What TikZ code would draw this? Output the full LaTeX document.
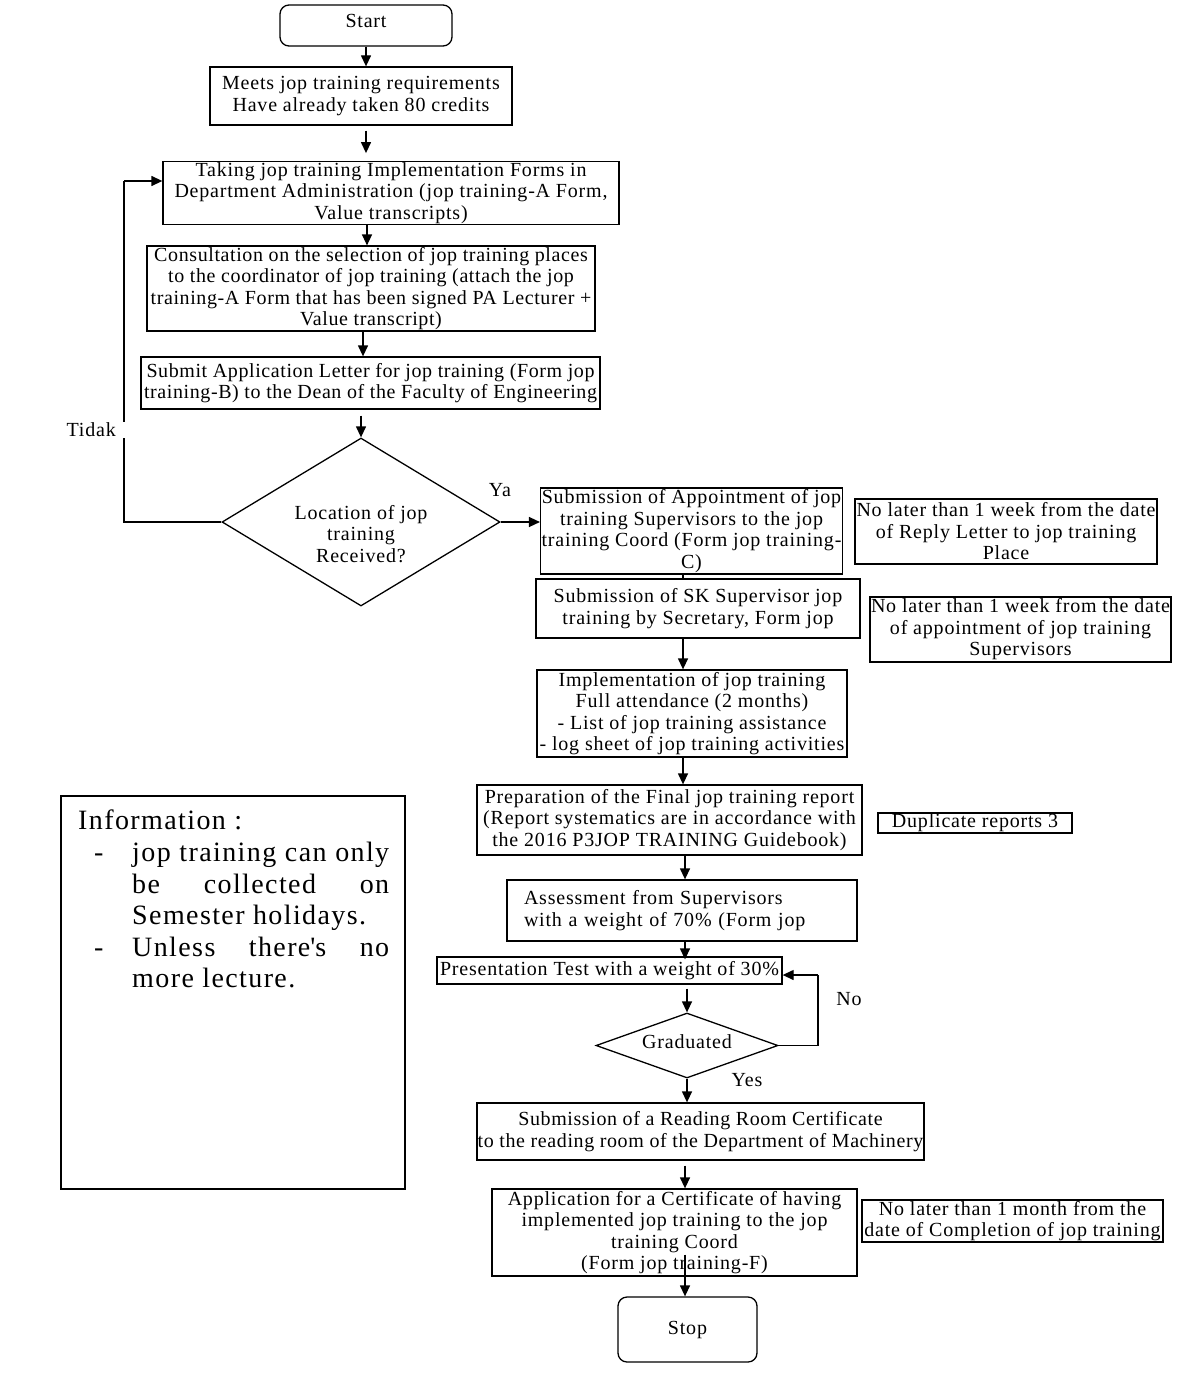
\documentclass[tikz,border=0pt]{standalone}
\usepackage{fontspec}
\setmainfont{Liberation Serif}[LetterSpace=4]
\usetikzlibrary{arrows.meta,shapes.geometric}
\begin{document}
\begin{tikzpicture}[x=1pt,y=-1pt,
  every node/.style={font=\fontsize{20}{21.5}\selectfont},
  tight/.style={font=\addfontfeatures{LetterSpace=3}\fontsize{20}{21.5}\selectfont},
  box/.style={draw,line width=1.3pt,rectangle,inner sep=1pt,align=center},
  term/.style={box,rounded corners=9pt},
  dia/.style={draw,line width=1.3pt,diamond,inner sep=0pt},
  lbl/.style={inner sep=1pt},
  arr/.style={line width=1.3pt,-{Triangle[length=11pt,width=10pt]}},
  ln/.style={line width=1.3pt}]
\useasboundingbox (0,0) rectangle (1200,1389);
% main column
\node[term,minimum width=172,minimum height=41] (start) at (366,25.5) {\raisebox{9pt}{Start}};
\node[box,minimum width=302,minimum height=58] (b1) at (361,96) {Meets jop training requirements\\Have already taken 80 credits};
\node[box,minimum width=456,minimum height=59] (b2) at (391,193) {\raisebox{-3pt}{\shortstack{Taking jop training Implementation Forms in\\Department Administration (jop training-A Form,\\Value transcripts)}}};
\node[box,tight,minimum width=448,minimum height=83,inner xsep=0pt] (b3) at (371,288.5) {Consultation on the selection of jop training places\\to the coordinator of jop training (attach the jop\\training-A Form that has been signed PA Lecturer +\\Value transcript)};
\node[box,tight,minimum width=459,minimum height=52,inner xsep=0pt] (b4) at (370.5,383) {Submit Application Letter for jop training (Form jop\\training-B) to the Dean of the Faculty of Engineering};
\node[dia,minimum width=278,minimum height=168] (d1) at (361,522) {};
\node[lbl,align=center] (d1t) at (361,534) {Location of jop\\training\\Received?};
\node[lbl] (ya) at (500,490) {Ya};
\node[box,minimum width=301,minimum height=86] (b5) at (691.5,531) {Submission of Appointment of jop\\training Supervisors to the jop\\training Coord (Form jop training-\\C)};
\node[box,minimum width=324,minimum height=59] (b6) at (698,608.5) {Submission of SK Supervisor jop\\training by Secretary, Form jop};
\node[box,minimum width=310,minimum height=87] (b7) at (692,713.5) {Implementation of jop training\\Full attendance (2 months)\\- List of jop training assistance\\- log sheet of jop training activities};
\node[box,minimum width=385,minimum height=70] (b8) at (669.5,820) {Preparation of the Final jop training report\\(Report systematics are in accordance with\\the 2016 P3JOP TRAINING Guidebook)};
\node[box,minimum width=350,minimum height=61,text width=316,inner xsep=17pt,align=left] (b9) at (682,910.5) {Assessment from Supervisors\\with a weight of 70\% (Form jop};
\node[box,minimum width=345,minimum height=27,inner sep=0pt] (b10) at (609.5,970.5) {Presentation Test with a weight of 30\%};
\node[dia,minimum width=182,minimum height=65] (d2) at (687,1045.5) {};
\node[lbl] (d2t) at (687,1042) {Graduated};
\node[lbl] (no) at (849,999) {No};
\node[lbl] (yes) at (747,1080) {Yes};
\node[box,tight,minimum width=447,minimum height=57,inner xsep=0pt] (b11) at (700.5,1131.5) {Submission of a Reading Room Certificate\\to the reading room of the Department of Machinery};
\node[box,minimum width=365,minimum height=87] (b12) at (674.5,1232.5) {Application for a Certificate of having\\implemented jop training to the jop\\training Coord\\(Form jop training-F)};
\node[term,minimum width=139,minimum height=65] (stop) at (687.5,1329.5) {\raisebox{-5pt}{Stop}};
% notes
\node[box,minimum width=302,minimum height=65] (n1) at (1006,531.5) {No later than 1 week from the date\\of Reply Letter to jop training\\Place};
\node[box,minimum width=301,minimum height=65] (n2) at (1020.5,629.5) {No later than 1 week from the date\\of appointment of jop training\\Supervisors};
\node[box,minimum width=194,minimum height=20,inner sep=0pt] (n3) at (975,823) {Duplicate reports 3};
\node[box,minimum width=301,minimum height=42,inner sep=0pt] (n4) at (1012.5,1221) {No later than 1 month from the\\date of Completion of jop training};
% info box
\node[box,minimum width=344,minimum height=393] (info) at (233,992.5) {};
\node[lbl,anchor=north west,align=left,font=\addfontfeatures{LetterSpace=5}\fontsize{28}{31.6}\selectfont] (infot) at (77,809) {%
Information :\\
\makebox[54pt][l]{\hspace{16pt}-}\hbox to 257pt{jop training can only}\\
\hspace*{54pt}\hbox to 257pt{be\hfill collected\hfill on}\\
\hspace*{54pt}\hbox to 257pt{Semester holidays.\hfill}\\
\makebox[54pt][l]{\hspace{16pt}-}\hbox to 257pt{Unless\hfill there\textquotesingle s\hfill no}\\
\hspace*{54pt}\hbox to 257pt{more lecture.\hfill}};
% connectors
\draw[arr] (start.south) -- (start.south |- b1.north);
\draw[arr] ([yshift=-5pt]b1.south -| start.south) -- ([yshift=8pt]b2.north -| start.south);
\draw[arr] ([xshift=-24pt]b2.south) -- ([xshift=-24pt]b2.south |- b3.north);
\draw[arr] ([xshift=-8pt]b3.south) -- ([xshift=-8pt]b3.south |- b4.north);
\draw[arr] ([yshift=-6pt]b4.south -| d1.north) -- (d1.north);
\coordinate (tk) at (124,181);
\draw[ln] (d1.west) -| (tk);
\draw[arr] (tk) -- (tk -| b2.west);
\node[lbl,fill=white,anchor=east,inner xsep=10pt] (tidak) at (126,430) {Tidak};
\draw[arr] (d1.east) -- (d1.east -| b5.west);
\draw[ln] ([xshift=-8.5pt]b5.south) -- ([xshift=-8.5pt]b5.south |- b6.north);
\draw[arr] ([xshift=-15pt]b6.south) -- ([xshift=-15pt]b6.south |- b7.north);
\draw[arr] ([xshift=-9pt]b7.south) -- ([xshift=-9pt]b7.south |- b8.north);
\draw[arr] ([xshift=15.5pt]b8.south) -- ([xshift=15.5pt]b8.south |- b9.north);
\draw[arr] ([xshift=3pt]b9.south) -- ([xshift=3pt,yshift=-3pt]b9.south |- b10.north);
\draw[arr] ([yshift=-4pt]b10.south -| d2.north) -- (d2.north);
\coordinate (nc) at (818,975);
\draw[ln] (d2.east) -| (nc);
\draw[arr] (nc) -- (nc -| b10.east);
\draw[arr] (d2.south) -- (d2.south |- b11.north);
\draw[arr] ([yshift=-5pt,xshift=-15.5pt]b11.south) -- ([xshift=-15.5pt]b11.south |- b12.north);
\draw[arr] ([yshift=22pt,xshift=10.5pt]b12.south) -- ([xshift=10.5pt]b12.south |- stop.north);
\end{tikzpicture}
\end{document}
